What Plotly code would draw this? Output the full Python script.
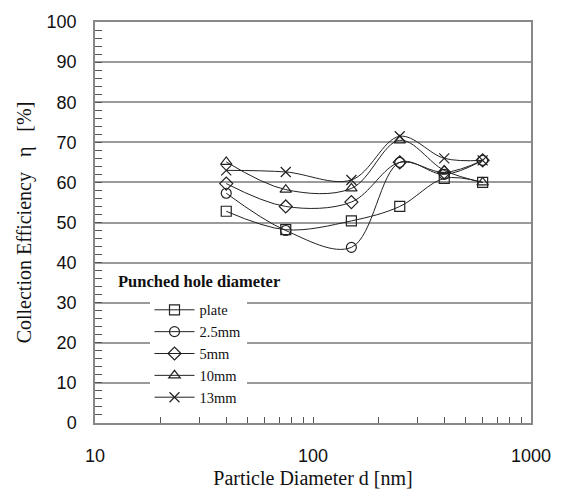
import plotly.graph_objects as go

diam = [40, 75, 150, 250, 400, 600]
plate = [52.8, 48.2, 50.4, 54.0, 61.0, 60.0]
mm2_5 = [57.3, 48.0, 43.8, 65.0, 62.0, 65.5]
mm5 = [59.7, 54.0, 55.1, 65.0, 62.5, 65.5]
mm10 = [65.1, 58.2, 58.5, 70.5, 63.0, 60.0]
mm13 = [63.0, 62.6, 60.6, 71.5, 66.0, 65.5]

names = ["plate", "2.5mm", "5mm", "10mm", "13mm"]
series = [plate, mm2_5, mm5, mm10, mm13]
symbols = ["square-open", "circle-open", "diamond-open", "triangle-up-open", "x-thin-open"]

x_ticks = [10, 100, 1000]
x_minor = [20, 30, 40, 50, 60, 70, 80, 90, 200, 300, 400, 500, 600, 700, 800, 900]

fig = go.Figure()
for n, s, sym in zip(names, series, symbols):
    fig.add_trace(go.Scatter(
        x=diam, y=s, name=n, mode="lines+markers",
        line=dict(color="#222", width=1, shape="spline", smoothing=1.0),
        marker=dict(symbol=sym, size=10, color="#222",
                    line=dict(color="#222", width=1.2)),
    ))

serif = "Liberation Serif"
sans = "Liberation Sans"

fig.update_layout(
    width=563, height=498,
    margin=dict(l=95, r=24, t=17, b=74),
    paper_bgcolor="white", plot_bgcolor="white",
    showlegend=True,
    legend=dict(
        x=0.125, y=0.322, xanchor="left", yanchor="top",
        bgcolor="white", font=dict(family=serif, size=14.5, color="#111"),
        tracegroupgap=0, itemwidth=40,
    ),
    annotations=[dict(
        text="<b>Punched hole diameter</b>", x=0.048, y=0.353,
        xref="paper", yref="paper", xanchor="left", yanchor="middle",
        showarrow=False, font=dict(family=serif, size=16.5, color="#111"),
    )],
    xaxis=dict(
        type="log", range=[1, 3],
        tickmode="array", tickvals=x_ticks, ticktext=[str(v) for v in x_ticks],
        ticks="inside", ticklen=6, tickcolor="#555",
        ticklabelstandoff=16,
        tickfont=dict(family=sans, size=18, color="#111"),
        showgrid=False, showline=True, linecolor="#888", linewidth=1.5, mirror=True,
        minor=dict(tickmode="array", tickvals=x_minor, ticks="inside", ticklen=6,
                   tickcolor="#555", showgrid=False),
        title=dict(text="Particle Diameter d [nm]",
                   font=dict(family=serif, size=20, color="#111"), standoff=6),
        zeroline=False,
    ),
    yaxis=dict(
        range=[0, 100], dtick=10, tick0=0,
        ticks="inside", ticklen=7, tickcolor="#555",
        ticklabelstandoff=13,
        tickfont=dict(family=sans, size=18, color="#111"),
        showgrid=True, gridcolor="#9a9a9a", gridwidth=1.5,
        showline=True, linecolor="#888", linewidth=1.5, mirror=True,
        minor=dict(dtick=2, ticks="inside", ticklen=7, tickcolor="#555", showgrid=False),
        title=dict(text="Collection Efficiency   η   [%]",
                   font=dict(family=serif, size=20, color="#111"), standoff=10),
        zeroline=False,
    ),
)

fig.write_html("out.html", config={"displayModeBar": False})

with open("out.html", "r", encoding="utf-8") as f:
    html = f.read()
html = html.replace("<head>", "<head><style>html,body{margin:0;padding:0;overflow:hidden;}</style>", 1)
with open("out.html", "w", encoding="utf-8") as f:
    f.write(html)
